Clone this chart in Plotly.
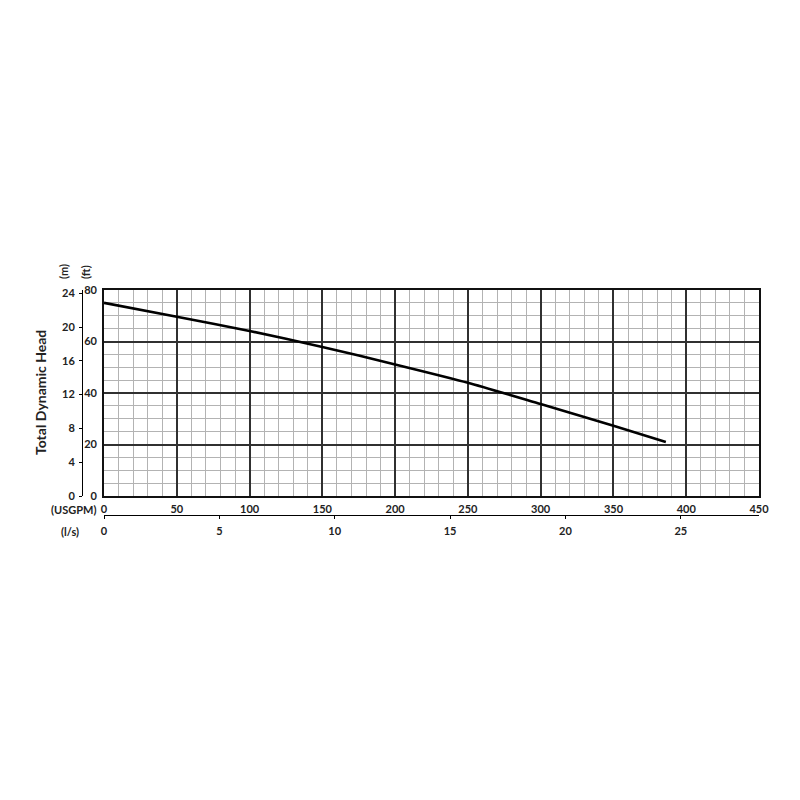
import plotly.graph_objects as go

# Pump curve (flow in USGPM, head in ft)
flow_usgpm = [0, 50, 100, 150, 200, 250, 300, 350, 386]
head_ft = [75.0, 69.6, 64.1, 57.9, 51.1, 44.0, 35.7, 27.3, 21.0]

GPM_PER_LPS = 15.85
M_PER_FT = 0.3048
X_MAX = 450
FT_MAX = 80

font_lbl = dict(family="Lato, Open Sans, sans-serif", size=11, color="#222", weight="bold")

# page body adds 8px margin, so shift everything back by that much
OFF = 8


def px(x):
    return (x - OFF) / 800


def py(y):
    return 1 - (y - OFF) / 800


fig = go.Figure()

fig.add_trace(go.Scatter(
    x=flow_usgpm, y=head_ft,
    mode="lines",
    line=dict(color="black", width=2.6, shape="spline", smoothing=0.6),
    showlegend=False, hoverinfo="skip"
))

# same curve on the metric axes, hidden, so those axes have data behind them
fig.add_trace(go.Scatter(
    x=[q / GPM_PER_LPS for q in flow_usgpm],
    y=[h * M_PER_FT for h in head_ft],
    xaxis="x2", yaxis="y2",
    mode="lines", line=dict(width=0), opacity=0,
    showlegend=False, hoverinfo="skip"
))

fig.update_layout(
    template="none",
    width=800, height=800,
    margin=dict(l=0, r=0, t=0, b=0, autoexpand=False),
    paper_bgcolor="white", plot_bgcolor="white",
    font=font_lbl,
    xaxis=dict(
        domain=[px(104), px(759)], range=[0, X_MAX], automargin=False,
        dtick=50, tick0=0, showgrid=True, gridcolor="#303030", gridwidth=1.5,
        minor=dict(dtick=10, showgrid=True, gridcolor="#b3b3b3", gridwidth=1.4),
        showline=True, linecolor="#111", linewidth=1.8, mirror=True,
        zeroline=False, ticks="", ticklabelstandoff=2,
        tickfont=font_lbl, fixedrange=True,
    ),
    yaxis=dict(
        domain=[py(496), py(290)], range=[0, FT_MAX], automargin=False,
        dtick=20, tick0=0, showgrid=True, gridcolor="#303030", gridwidth=1.5,
        minor=dict(dtick=5, showgrid=True, gridcolor="#b3b3b3", gridwidth=1.4),
        showline=True, linecolor="#111", linewidth=1.8, mirror=True,
        zeroline=False, ticks="", ticklabelstandoff=3,
        tickfont=font_lbl, fixedrange=True,
    ),
    xaxis2=dict(
        overlaying="x", anchor="free", position=py(515), side="bottom",
        range=[0, X_MAX / GPM_PER_LPS], dtick=5, tick0=0, automargin=False,
        showgrid=False, zeroline=False,
        showline=True, linecolor="black", linewidth=1,
        ticks="outside", ticklen=3, tickcolor="black",
        ticklabelstandoff=3, tickfont=font_lbl, fixedrange=True,
    ),
    yaxis2=dict(
        overlaying="y", anchor="free", position=px(82), side="left",
        range=[0, FT_MAX * M_PER_FT], dtick=4, tick0=0, automargin=False,
        showgrid=False, zeroline=False,
        showline=True, linecolor="black", linewidth=1,
        ticks="outside", ticklen=3, tickcolor="black",
        ticklabelstandoff=2, tickfont=font_lbl, fixedrange=True,
    ),
)

ann = [
    dict(text="Total Dynamic Head", x=px(41), y=py(393), textangle=-90,
         font=dict(family="Lato, Open Sans, sans-serif", size=14, color="#222", weight="bold")),
    dict(text="(m)", x=px(63), y=py(272), textangle=-90),
    dict(text="(ft)", x=px(85), y=py(272), textangle=-90),
    dict(text="(USGPM)", x=px(73), y=py(510)),
    dict(text="(l/s)", x=px(70), y=py(531)),
]
for a in ann:
    a.setdefault("font", font_lbl)
    fig.add_annotation(xref="paper", yref="paper", showarrow=False,
                       xanchor="center", yanchor="middle", **a)

fig.write_html("out.html")
